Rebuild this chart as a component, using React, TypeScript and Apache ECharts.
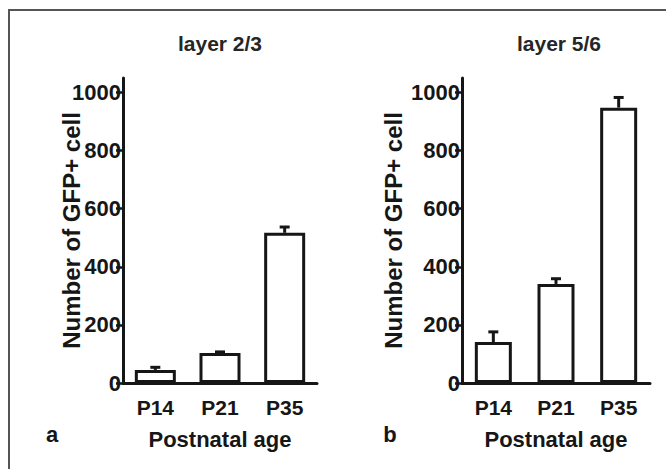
import React, { useEffect, useRef } from "react";
import * as echarts from "echarts";

const categories = ["P14", "P21", "P35"];
const layer23Values = [45, 103, 517];
const layer23Errors = [9, 4, 20];
const layer56Values = [141, 341, 948];
const layer56Errors = [35, 18, 35];
const yTickValues = [0, 200, 400, 600, 800, 1000];
const panelTitles = ["layer 2/3", "layer 5/6"];
const panelLetters = ["a", "b"];
const yAxisName = "Number of GFP+ cell";
const xAxisName = "Postnatal age";

const FONT = "'Liberation Sans', Arial, Helvetica, sans-serif";
const INK = "#161616";

export default function App() {
  const ref = useRef<HTMLDivElement>(null);
  useEffect(() => {
    if (!ref.current) return;
    const chart = echarts.init(ref.current, null, { renderer: "svg" });

    const grids = [
      { left: 123, top: 78, width: 194, height: 305 },
      { left: 462, top: 78, width: 188, height: 305 },
    ];
    const nameGaps = [40, 57];

    const xAxes = grids.map((_, i) => ({
      type: "category",
      gridIndex: i,
      data: categories,
      axisLine: { lineStyle: { color: INK, width: 3 } },
      axisTick: { show: false },
      axisLabel: {
        color: INK,
        fontFamily: FONT,
        fontWeight: "bold",
        fontSize: 21,
        margin: 14,
      },
      name: xAxisName,
      nameLocation: "middle",
      nameGap: 45,
      nameMoveOverlap: false,
      nameTextStyle: { color: INK, fontFamily: FONT, fontWeight: "bold", fontSize: 22 },
    }));

    const yAxes = grids.map((_, i) => ({
      type: "value",
      gridIndex: i,
      min: 0,
      max: 1050,
      splitLine: { show: false },
      axisLine: { show: true, lineStyle: { color: INK, width: 3 } },
      axisTick: {
        show: true,
        length: 7,
        lineStyle: { color: INK, width: 2.5 },
        customValues: yTickValues,
      },
      axisLabel: {
        color: INK,
        fontFamily: FONT,
        fontWeight: "bold",
        fontSize: 22,
        margin: 2,
        customValues: yTickValues,
        formatter: (v: number) => String(v),
      },
      name: yAxisName,
      nameLocation: "middle",
      nameGap: nameGaps[i],
      nameMoveOverlap: false,
      nameTextStyle: { color: INK, fontFamily: FONT, fontWeight: "bold", fontSize: 24 },
    }));

    const datasets = [
      { values: layer23Values, errors: layer23Errors, barWidth: 41 },
      { values: layer56Values, errors: layer56Errors, barWidth: 37 },
    ];

    const series: any[] = [];
    datasets.forEach((d, i) => {
      series.push({
        type: "bar",
        xAxisIndex: i,
        yAxisIndex: i,
        data: d.values,
        barWidth: d.barWidth,
        itemStyle: { color: "#ffffff", borderColor: INK, borderWidth: 3 },
        z: 2,
      });
      series.push({
        type: "custom",
        xAxisIndex: i,
        yAxisIndex: i,
        data: d.values.map((v, k) => [k, v, v + d.errors[k]]),
        z: 3,
        renderItem: (params: any, api: any) => {
          const base = api.coord([api.value(0), api.value(1)]);
          const top = api.coord([api.value(0), api.value(2)]);
          const half = 5;
          return {
            type: "group",
            children: [
              {
                type: "line",
                shape: { x1: base[0], y1: base[1], x2: top[0], y2: top[1] },
                style: { stroke: INK, lineWidth: 3 },
              },
              {
                type: "line",
                shape: { x1: top[0] - half, y1: top[1], x2: top[0] + half, y2: top[1] },
                style: { stroke: INK, lineWidth: 3 },
              },
            ],
          };
        },
      });
    });

    const textStyle = (text: string, size: number, fill: string) => ({
      text,
      font: `bold ${size}px ${FONT}`,
      fill,
      textAlign: "center",
      textVerticalAlign: "middle",
    });

    const graphic: any[] = [
      {
        type: "rect",
        shape: { x: 9, y: 10, width: 700, height: 500 },
        style: { fill: "none", stroke: "#555555", lineWidth: 2 },
        silent: true,
      },
      { type: "text", x: 220, y: 43, style: textStyle(panelTitles[0], 21, "#262626") },
      { type: "text", x: 559, y: 43, style: textStyle(panelTitles[1], 21, "#262626") },
      { type: "text", x: 52, y: 434, style: textStyle(panelLetters[0], 22, INK) },
      { type: "text", x: 390, y: 434, style: textStyle(panelLetters[1], 22, INK) },
    ];

    chart.setOption({
      animation: false,
      backgroundColor: "#ffffff",
      grid: grids,
      xAxis: xAxes,
      yAxis: yAxes,
      series,
      graphic,
    });
    return () => chart.dispose();
  }, []);

  return (
    <div
      ref={ref}
      style={{ position: "fixed", left: 0, top: 0, width: 666, height: 469 }}
    />
  );
}
